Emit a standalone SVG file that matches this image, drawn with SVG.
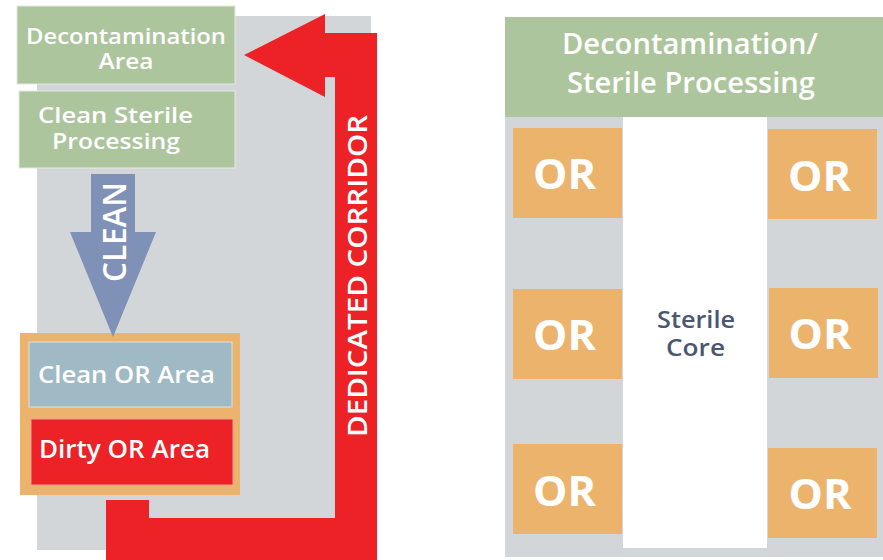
<svg xmlns="http://www.w3.org/2000/svg" width="883" height="560" viewBox="0 0 883 560">
<style>
.t{font-family:"Open Sans","Liberation Sans",sans-serif;font-weight:600;fill:#ffffff;text-anchor:middle}
.dark{fill:#4b5672}
.green{fill:#adc59d}
.gray{fill:#d3d6d9}
.orange{fill:#ecb36c}
.or{font-size:42px;font-weight:700}
</style>
<rect width="883" height="560" fill="#ffffff"/>
<!-- left plan -->
<rect id="left-bg" class="gray" x="37" y="16" width="334" height="534"/>
<g id="decontamination-area">
<rect class="green" x="17" y="6" width="218" height="78" stroke="#e4e9e0" stroke-width="1"/>
<text class="t" x="126" y="44" font-size="22" textLength="200" lengthAdjust="spacingAndGlyphs">Decontamination</text>
<text class="t" x="126" y="69" font-size="22" textLength="55" lengthAdjust="spacingAndGlyphs">Area</text>
</g>
<g id="clean-sterile-processing">
<rect class="green" x="19" y="91" width="216" height="77" stroke="#e4e9e0" stroke-width="1"/>
<text class="t" x="115.5" y="123" font-size="22" textLength="155" lengthAdjust="spacingAndGlyphs">Clean Sterile</text>
<text class="t" x="116" y="149" font-size="22" textLength="128" lengthAdjust="spacingAndGlyphs">Processing</text>
</g>
<g id="or-suite">
<rect class="orange" x="20" y="333" width="220" height="162"/>
<g id="clean-or-area">
<rect x="29" y="342" width="203" height="65" fill="#9fb9c5" stroke="#d9e3e7" stroke-width="1"/>
<text class="t" x="126.5" y="383" font-size="24" textLength="177" lengthAdjust="spacingAndGlyphs">Clean OR Area</text>
</g>
<g id="dirty-or-area">
<rect x="31" y="419" width="202" height="66" fill="#ec2227" stroke="#f0a0a0" stroke-width="1"/>
<text class="t" x="124.5" y="458" font-size="25" textLength="171" lengthAdjust="spacingAndGlyphs">Dirty OR Area</text>
</g>
</g>
<g id="connectors">
<g id="clean-arrow">
<polygon points="91,174 135,174 135,232 156,232 113,337 70,232 91,232" fill="#7f91b6"/>
<text class="t" transform="translate(126,232) rotate(-90)" x="0" y="0" font-size="32" textLength="100" lengthAdjust="spacingAndGlyphs">CLEAN</text>
</g>
<g id="dedicated-corridor">
<polygon points="244,55 325,14 325,33 377,33 377,560 106,560 106,500 149,500 149,518 335,518 335,77 325,77 325,97" fill="#ec2227"/>
<text class="t" transform="translate(367,276) rotate(-90)" x="0" y="0" font-size="27" textLength="322" lengthAdjust="spacingAndGlyphs">DEDICATED CORRIDOR</text>
</g>
</g>
<!-- right plan -->
<rect id="right-bg" class="gray" x="505" y="17" width="378" height="540"/>
<g id="decontamination-sterile-processing">
<rect class="green" x="505" y="17" width="378" height="100"/>
<text class="t" x="690" y="54" font-size="29" textLength="256" lengthAdjust="spacingAndGlyphs">Decontamination/</text>
<text class="t" x="691" y="93" font-size="29" textLength="248" lengthAdjust="spacingAndGlyphs">Sterile Processing</text>
</g>
<g id="sterile-core">
<rect x="623" y="117" width="144" height="431" fill="#ffffff"/>
<text class="t dark" x="696" y="328" font-size="23" textLength="78" lengthAdjust="spacingAndGlyphs">Sterile</text>
<text class="t dark" x="695.5" y="356" font-size="23" textLength="59" lengthAdjust="spacingAndGlyphs">Core</text>
</g>
<g id="or-left-top">
<rect class="orange" x="513" y="128" width="109" height="90"/>
<text class="t or" x="564.5" y="189" textLength="63" lengthAdjust="spacingAndGlyphs">OR</text>
</g>
<g id="or-right-top">
<rect class="orange" x="768" y="129" width="109" height="90"/>
<text class="t or" x="819.5" y="191" textLength="63" lengthAdjust="spacingAndGlyphs">OR</text>
</g>
<g id="or-left-middle">
<rect class="orange" x="513" y="289" width="109" height="90"/>
<text class="t or" x="564.5" y="350" textLength="63" lengthAdjust="spacingAndGlyphs">OR</text>
</g>
<g id="or-right-middle">
<rect class="orange" x="769" y="288" width="109" height="90"/>
<text class="t or" x="820" y="349" textLength="63" lengthAdjust="spacingAndGlyphs">OR</text>
</g>
<g id="or-left-bottom">
<rect class="orange" x="513" y="444" width="109" height="90"/>
<text class="t or" x="564.5" y="506" textLength="63" lengthAdjust="spacingAndGlyphs">OR</text>
</g>
<g id="or-right-bottom">
<rect class="orange" x="768" y="448" width="109" height="90"/>
<text class="t or" x="820" y="509" textLength="63" lengthAdjust="spacingAndGlyphs">OR</text>
</g>
</svg>
